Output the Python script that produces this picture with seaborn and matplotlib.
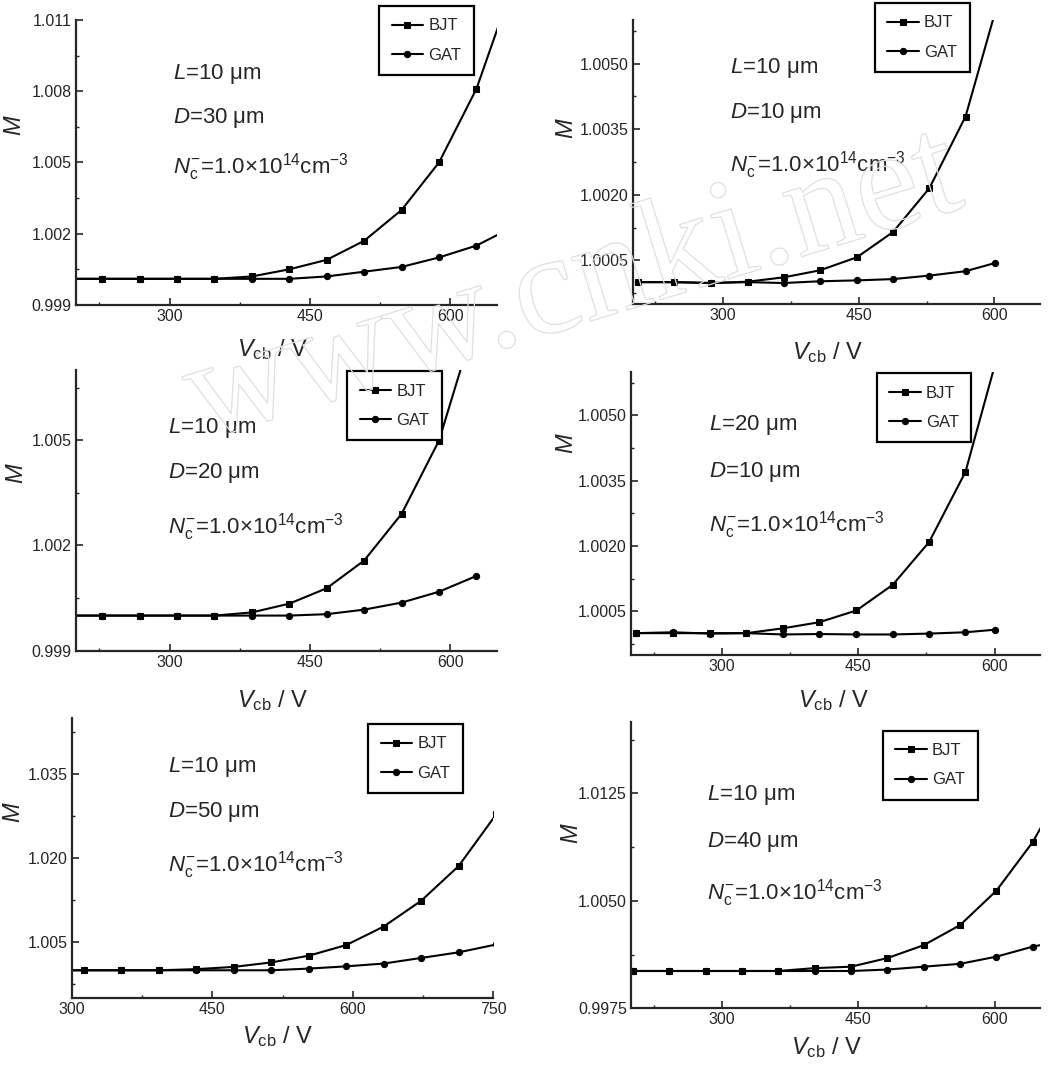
import matplotlib
matplotlib.use("Agg")
import matplotlib.pyplot as plt
import matplotlib.patheffects as pe
from matplotlib.ticker import FixedLocator, FormatStrFormatter
import seaborn as sns

# ---- data (Vcb in V, M dimensionless) ----
# L=10um, D=30um
v_a = [188, 228, 268, 308, 348, 388, 428, 468, 508, 548, 588, 628, 668]
bjt_a = [1.0001, 1.0001, 1.0001, 1.0001, 1.0001, 1.0002, 1.0005, 1.0009, 1.0017, 1.0030, 1.0050, 1.0081, 1.0126]
gat_a = [1.0001, 1.0001, 1.0001, 1.0001, 1.0001, 1.0001, 1.0001, 1.0002, 1.0004, 1.0006, 1.0010, 1.0015, 1.0023]

# L=10um, D=10um
v_b = [206, 246, 287, 327, 367, 407, 448, 488, 528, 568, 601]
bjt_b = [1.0000, 1.0000, 0.99998, 1.00001, 1.00011, 1.00027, 1.00057, 1.00115, 1.00215, 1.00379, 1.0062]
gat_b = [1.0000, 1.0000, 0.99998, 1.0000, 0.99998, 1.00002, 1.00004, 1.00007, 1.00015, 1.00025, 1.00044]

# L=10um, D=20um
v_c = [188, 228, 268, 308, 348, 388, 428, 468, 508, 548, 588, 628]
bjt_c = [1.0000, 1.0000, 1.0000, 1.0000, 1.0000, 1.00009, 1.00034, 1.00078, 1.00157, 1.0029, 1.00499, 1.0085]
gat_c = [1.0000, 1.0000, 1.0000, 1.0000, 1.0000, 1.0000, 1.0000, 1.00004, 1.00017, 1.00037, 1.00068, 1.00113]

# L=20um, D=10um
v_d = [206, 246, 287, 327, 367, 407, 448, 488, 528, 568, 601]
bjt_d = [1.0000, 1.0000, 1.0000, 1.0000, 1.00011, 1.00025, 1.00052, 1.00111, 1.00209, 1.0037, 1.0062]
gat_d = [1.0000, 1.00002, 0.99999, 1.0000, 0.99997, 0.99998, 0.99997, 0.99997, 0.99999, 1.00002, 1.00008]

# L=10um, D=50um
v_e = [273, 313, 353, 393, 433, 473, 513, 553, 593, 633, 673, 713, 753]
bjt_e = [1.0000, 1.0000, 1.0000, 1.0000, 1.0002, 1.0006, 1.0014, 1.0026, 1.0045, 1.0078, 1.0124, 1.0186, 1.0278]
gat_e = [1.0000, 1.0000, 1.0000, 1.0000, 1.0000, 1.0000, 1.0000, 1.0003, 1.0007, 1.0012, 1.0022, 1.0032, 1.0046]

# L=10um, D=40um
v_f = [202, 242, 282, 322, 362, 402, 442, 482, 522, 562, 602, 642, 682]
bjt_f = [1.0001, 1.0001, 1.0001, 1.0001, 1.0001, 1.0003, 1.0004, 1.0010, 1.0019, 1.0033, 1.0057, 1.0091, 1.0136]
gat_f = [1.0001, 1.0001, 1.0001, 1.0001, 1.0001, 1.0001, 1.0001, 1.0002, 1.0004, 1.0006, 1.0011, 1.0018, 1.0023]

texts_L = ["10", "10", "10", "20", "10", "10"]
texts_D = ["30", "10", "20", "10", "50", "40"]

sns.set_style("ticks")
plt.rcParams['font.family'] = ['Liberation Sans Narrow', 'Liberation Sans', 'DejaVu Sans']
plt.rcParams['mathtext.fontset'] = 'custom'
plt.rcParams['mathtext.rm'] = 'Liberation Sans'
plt.rcParams['mathtext.it'] = 'Liberation Sans:italic'
plt.rcParams['mathtext.bf'] = 'Liberation Sans:bold'

fig = plt.figure(figsize=(10.58, 10.70), dpi=100)

# layout per panel: axes rect, limits, ticks, text pos, legend anchor, label coords
panels = [
    dict(v=v_a, bjt=bjt_a, gat=gat_a, rect=[0.0718, 0.715, 0.398, 0.2664],
         xlim=(200, 650), ylim=(0.999, 1.011),
         yt=[0.999, 1.002, 1.005, 1.008, 1.011], ymt=[1.0005, 1.0035, 1.0065, 1.0095], fmt='%.3f',
         tx=0.23, ty=[0.81, 0.656, 0.484], leg=(0.72, 1.049), xl=(0.466, -0.112), yl=(-0.119, 0.632)),
    dict(v=v_b, bjt=bjt_b, gat=gat_b, rect=[0.598, 0.7159, 0.3847, 0.2654],
         xlim=(200, 650), ylim=(0.9995, 1.0060),
         yt=[1.0005, 1.0020, 1.0035, 1.0050], ymt=[0.99975, 1.00125, 1.00275, 1.00425, 1.00575], fmt='%.4f',
         tx=0.238, ty=[0.83, 0.672, 0.49], leg=(0.595, 1.06), xl=(0.479, -0.127), yl=(-0.135, 0.62)),
    dict(v=v_c, bjt=bjt_c, gat=gat_c, rect=[0.0718, 0.3919, 0.398, 0.2623],
         xlim=(200, 650), ylim=(0.999, 1.007),
         yt=[0.999, 1.002, 1.005], ymt=[1.0005, 1.0035, 1.0065], fmt='%.3f',
         tx=0.219, ty=[0.793, 0.633, 0.44], leg=(0.644, 0.996), xl=(0.466, -0.133), yl=(-0.114, 0.633)),
    dict(v=v_d, bjt=bjt_d, gat=gat_d, rect=[0.5964, 0.3879, 0.3866, 0.2648],
         xlim=(200, 650), ylim=(0.9995, 1.0060),
         yt=[1.0005, 1.0020, 1.0035, 1.0050], ymt=[0.99975, 1.00125, 1.00275, 1.00425, 1.00575], fmt='%.4f',
         tx=0.19, ty=[0.812, 0.647, 0.459], leg=(0.601, 0.995), xl=(0.496, -0.116), yl=(-0.13, 0.748)),
    dict(v=v_e, bjt=bjt_e, gat=gat_e, rect=[0.0678, 0.067, 0.3985, 0.262],
         xlim=(300, 750), ylim=(0.995, 1.045),
         yt=[1.005, 1.020, 1.035], ymt=[0.9975, 1.0125, 1.0275, 1.0425], fmt='%.3f',
         tx=0.228, ty=[0.826, 0.666, 0.476], leg=(0.703, 0.979), xl=(0.489, -0.092), yl=(-0.111, 0.665)),
    dict(v=v_f, bjt=bjt_f, gat=gat_f, rect=[0.5964, 0.0577, 0.3866, 0.2679],
         xlim=(200, 650), ylim=(0.9975, 1.0175),
         yt=[0.9975, 1.0050, 1.0125], ymt=[1.00125, 1.00875, 1.01625], fmt='%.4f',
         tx=0.185, ty=[0.744, 0.581, 0.401], leg=(0.616, 0.968), xl=(0.479, -0.093), yl=(-0.117, 0.612)),
]

for i, p in enumerate(panels):
    ax = fig.add_axes(p['rect'])
    sns.lineplot(x=p['v'], y=p['bjt'], ax=ax, color='black', marker='s', markersize=4,
                 markeredgecolor='black', linewidth=1.5, label='BJT')
    sns.lineplot(x=p['v'], y=p['gat'], ax=ax, color='black', marker='o', markersize=4.5,
                 markeredgecolor='black', linewidth=1.5, label='GAT')

    lo, hi = p['xlim']
    ax.set_xlim(lo, hi)
    ax.set_ylim(*p['ylim'])
    ax.xaxis.set_major_locator(FixedLocator([t for t in (300, 450, 600, 750) if lo <= t <= hi]))
    ax.xaxis.set_minor_locator(FixedLocator([t for t in (225, 375, 525, 675) if lo <= t <= hi]))
    ax.yaxis.set_major_locator(FixedLocator(p['yt']))
    ax.yaxis.set_minor_locator(FixedLocator(p['ymt']))
    ax.yaxis.set_major_formatter(FormatStrFormatter(p['fmt']))

    ax.tick_params(which='major', direction='in', length=5, width=1.2, labelsize=11.5, pad=3)
    ax.tick_params(which='minor', direction='in', length=2.5, width=1.0)
    sns.despine(ax=ax)
    for s in ('left', 'bottom'):
        ax.spines[s].set_linewidth(1.6)

    ax.set_xlabel(r'$V_{\mathrm{cb}}$ / V', fontsize=17, family='Liberation Sans')
    ax.set_ylabel(r'$M$', fontsize=17)
    ax.xaxis.set_label_coords(*p['xl'])
    ax.yaxis.set_label_coords(*p['yl'])

    tfont = dict(fontsize=16, family='Liberation Sans', transform=ax.transAxes, va='center', ha='left')
    ax.text(p['tx'], p['ty'][0], r'$L$=' + texts_L[i] + ' μm', **tfont)
    ax.text(p['tx'], p['ty'][1], r'$D$=' + texts_D[i] + ' μm', **tfont)
    ax.text(p['tx'], p['ty'][2], r'$N_{\mathrm{c}}^{-}$=1.0×10$^{14}$cm$^{-3}$', **tfont)

    leg = ax.legend(loc='upper left', bbox_to_anchor=p['leg'], borderaxespad=0, fontsize=12,
                    frameon=True, fancybox=False, edgecolor='black', framealpha=1,
                    handlelength=1.9, handletextpad=0.3, labelspacing=0.85, borderpad=0.75)
    leg.get_frame().set_linewidth(1.6)

# faint site watermark across the top half
fig.text(0.543, 0.729, 'www.cnki.net', fontsize=104, family='Liberation Serif', rotation=17,
         ha='center', va='center', color='none',
         path_effects=[pe.Stroke(linewidth=0.9, foreground='#e0e0e0')])

fig.savefig('out.png', dpi=100)
